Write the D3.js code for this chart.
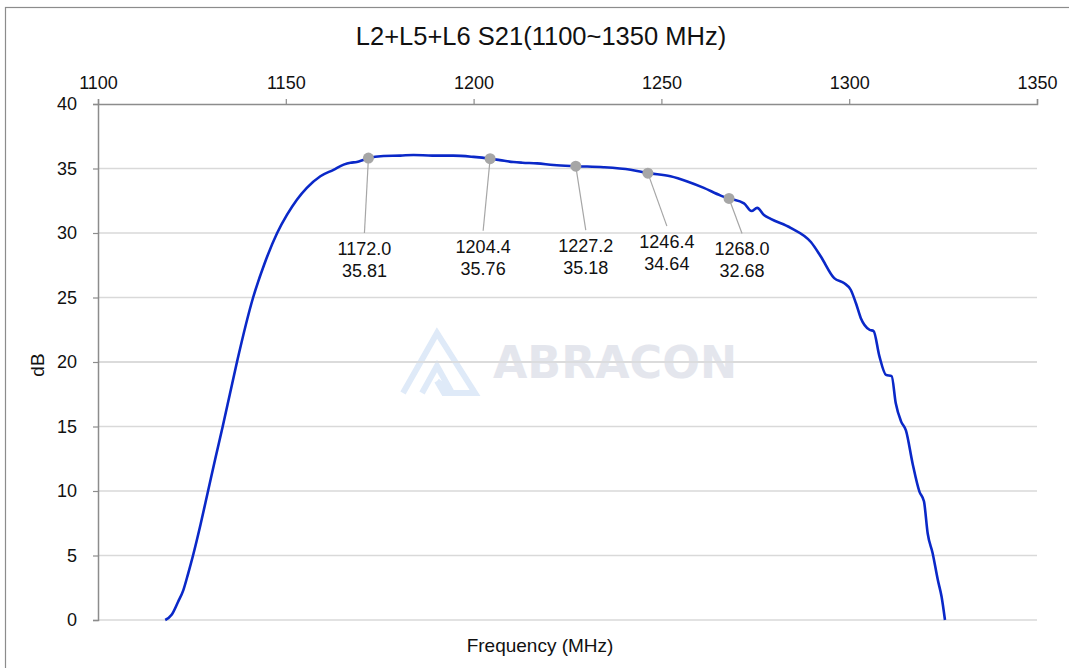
<!DOCTYPE html>
<html>
<head>
<meta charset="utf-8">
<script src="https://cdn.jsdelivr.net/npm/d3@7"></script>
<style>
	body { margin: 0; background: #fff; }
	svg { display: block; font-family: "Liberation Sans", Arial, sans-serif; }
</style>
</head>
<body>
<svg id="plot" width="1069" height="668"></svg>
<script>
const TITLE = 'L2+L5+L6 S21(1100~1350 MHz)';
const X_TICKS = [1100, 1150, 1200, 1250, 1300, 1350];
const Y_TICKS = [0, 5, 10, 15, 20, 25, 30, 35, 40];

// S21 curve (MHz, dB)
const FREQ = [1117.9, 1119.6, 1121.3, 1122.7, 1124.0, 1125.3, 1127.3, 1129.3, 1131.3, 1133.2, 1135.1, 1137.0,
	1141.3, 1144.3, 1147.7, 1150.3, 1153.0, 1155.6, 1159.2, 1162.7,
	1165.4, 1167.2, 1168.9, 1170.6, 1172.0, 1176.0, 1180.5, 1184.0, 1189.0, 1194.6,
	1200.0, 1204.4, 1207.0, 1210.6, 1213.0, 1216.9, 1221.3, 1227.2, 1234.6, 1241.8,
	1246.4, 1252.4, 1256.9, 1261.3, 1265.8, 1268.0, 1272.0, 1274.0, 1275.5, 1277.3,
	1279.1, 1284.4, 1289.8, 1292.4, 1296.0, 1298.7, 1300.4, 1301.8, 1303.1, 1305.4,
	1306.5, 1308.0, 1309.8, 1311.3, 1312.4, 1313.8, 1315.1, 1316.9, 1318.7, 1319.9,
	1320.9, 1322.2, 1323.6, 1324.6, 1325.5];
const DB = [0, 0.4, 1.4, 2.3, 3.6, 5.0, 7.4, 10.0, 12.6, 15.0, 17.5, 20.0,
	25.0, 27.6, 30.0, 31.4, 32.6, 33.5, 34.4, 34.9,
	35.3, 35.45, 35.5, 35.66, 35.81, 35.97, 36.0, 36.05, 36.0, 36.0,
	35.9, 35.76, 35.65, 35.5, 35.45, 35.4, 35.27, 35.18, 35.1, 34.9,
	34.64, 34.4, 34.0, 33.5, 32.9, 32.68, 32.3, 31.7, 31.95, 31.4,
	31.1, 30.4, 29.3, 28.2, 26.5, 26.1, 25.6, 24.55, 23.4, 22.5,
	22.4, 20.5, 19.0, 18.9, 16.8, 15.4, 14.7, 12.1, 9.95, 9.2,
	6.7, 5.2, 3.1, 1.8, 0];

// marked points
const MARK_FREQ = [1172.0, 1204.4, 1227.2, 1246.4, 1268.0];
const MARK_DB = [35.81, 35.76, 35.18, 34.64, 32.68];
// label placement relative to each marker (px)
const LABEL_DX = [-4, -7, 10, 19, 13];
const LABEL_DY = [97, 94, 86, 75, 57];

const svg = d3.select('#plot');
const plotLeft = 98, plotRight = 1037, plotTop = 104, plotBottom = 620;

const x = d3.scaleLinear().domain([1100, 1350]).range([plotLeft, plotRight]);
const y = d3.scaleLinear().domain([0, 40]).range([plotBottom, plotTop]);

/* outer frame */
svg.append('rect')
	.attr('x', 5.5).attr('y', 7.5)
	.attr('width', 1080).attr('height', 700)
	.attr('fill', 'none').attr('stroke', '#8c8c8c').attr('stroke-width', 1.2);

/* title */
svg.append('text')
	.attr('x', 541).attr('y', 45)
	.attr('text-anchor', 'middle')
	.attr('font-size', 25.5)
	.attr('fill', '#111')
	.text(TITLE);

/* gridlines */
svg.append('g').selectAll('line')
	.data(Y_TICKS.filter(d => d < 40))
	.enter().append('line')
		.attr('x1', plotLeft).attr('x2', plotRight)
		.attr('y1', d => y(d)).attr('y2', d => y(d))
		.attr('stroke', '#d9d9d9').attr('stroke-width', 1.5);

/* watermark */
const wm = svg.append('g');
wm.append('path')
	.attr('d', 'M403,393 L437,333 L475,393 L444,393 L437,381 M437,381 L452,393 M422,393 L437,366 L452,393')
	.attr('fill', 'none').attr('stroke', '#dfeaf8').attr('stroke-width', 6)
	.attr('stroke-linejoin', 'miter');
wm.append('text')
	.attr('x', 493).attr('y', 378)
	.attr('font-family', '"DejaVu Sans", sans-serif')
	.attr('font-weight', 'bold')
	.attr('font-size', 45)
	.attr('textLength', 244).attr('lengthAdjust', 'spacingAndGlyphs')
	.attr('fill', '#e4e6ed')
	.text('ABRACON');
// gridline at 20 runs over the watermark
svg.append('line')
	.attr('x1', plotLeft).attr('x2', plotRight)
	.attr('y1', y(20)).attr('y2', y(20))
	.attr('stroke', '#d9d9d9').attr('stroke-width', 1.5);

/* axes */
const xAxis = d3.axisTop(x).tickValues(X_TICKS).tickSize(5).tickPadding(10).tickFormat(d3.format('d'));
const yAxis = d3.axisLeft(y).tickValues(Y_TICKS).tickSize(5).tickPadding(16).tickFormat(d3.format('d'));

const gx = svg.append('g').attr('transform', `translate(0,${y(40)})`).call(xAxis);
const gy = svg.append('g').attr('transform', `translate(${plotLeft},0)`).call(yAxis);
[gx, gy].forEach(g => {
	g.select('.domain').attr('stroke', '#8c8c8c').attr('stroke-width', 1.5);
	g.selectAll('.tick line').attr('stroke', '#8c8c8c').attr('stroke-width', 1.2);
	g.selectAll('.tick text')
		.attr('font-family', '"Liberation Sans", Arial, sans-serif')
		.attr('font-size', 18).attr('fill', '#111');
});

/* axis titles */
svg.append('text')
	.attr('x', 540).attr('y', 652)
	.attr('text-anchor', 'middle')
	.attr('font-size', 19).attr('fill', '#111')
	.text('Frequency (MHz)');
svg.append('text')
	.attr('transform', 'translate(44,365) rotate(-90)')
	.attr('text-anchor', 'middle')
	.attr('font-size', 19).attr('fill', '#111')
	.text('dB');

/* curve */
const data = FREQ.map((f, i) => ({ f: f, v: DB[i] }));
const line = d3.line()
	.x(d => x(d.f))
	.y(d => y(d.v))
	.curve(d3.curveMonotoneX);
svg.append('path')
	.datum(data)
	.attr('d', line)
	.attr('fill', 'none')
	.attr('stroke', '#0a28c8')
	.attr('stroke-width', 2.6)
	.attr('stroke-linejoin', 'round');

/* markers + labels */
const marks = MARK_FREQ.map((f, i) => ({ f: f, v: MARK_DB[i], dx: LABEL_DX[i], dy: LABEL_DY[i] }));
const mg = svg.append('g');
mg.selectAll('line')
	.data(marks)
	.enter().append('line')
		.attr('x1', d => x(d.f)).attr('y1', d => y(d.v))
		.attr('x2', d => x(d.f) + d.dx).attr('y2', d => y(d.v) + d.dy - 22)
		.attr('stroke', '#a6a6a6').attr('stroke-width', 1.2);
mg.selectAll('circle')
	.data(marks)
	.enter().append('circle')
		.attr('cx', d => x(d.f)).attr('cy', d => y(d.v))
		.attr('r', 5.5)
		.attr('fill', '#a6a6a6');
const lbl = mg.selectAll('text.lbl')
	.data(marks)
	.enter().append('text')
		.attr('class', 'lbl')
		.attr('text-anchor', 'middle')
		.attr('font-size', 18)
		.attr('fill', '#111');
lbl.append('tspan')
	.attr('x', d => x(d.f) + d.dx).attr('y', d => y(d.v) + d.dy)
	.text(d => d3.format('.1f')(d.f));
lbl.append('tspan')
	.attr('x', d => x(d.f) + d.dx).attr('y', d => y(d.v) + d.dy + 22)
	.text(d => d3.format('.2f')(d.v));
</script>
</body>
</html>
